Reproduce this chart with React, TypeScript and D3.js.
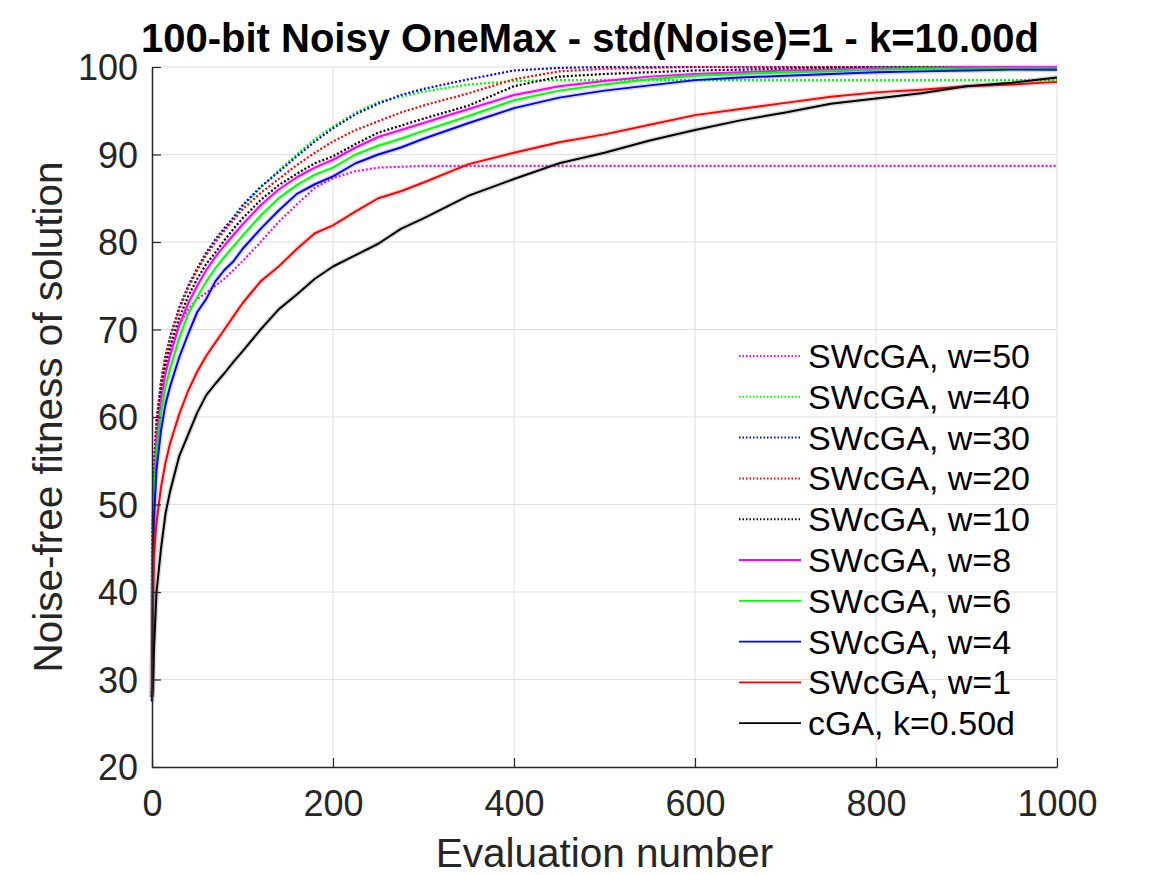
import * as d3 from 'd3';
import { useEffect, useRef } from 'react';

// evaluation numbers shared by every series
const evals = [0, 1, 2, 5, 10, 15, 20, 30, 40, 50, 60, 70, 80, 90, 100, 120, 140, 160, 180, 200, 225, 250, 275, 300, 350, 400, 450, 500, 550, 600, 650, 700, 750, 800, 850, 900, 950, 1000];

const sw50 = [27.5, 47, 53, 58.5, 63, 65.8, 67.8, 70.5, 72.3, 73.5, 74.2, 75, 75.8, 76.8, 77.8, 80, 82.3, 84.3, 86.2, 87.3, 88.1, 88.5, 88.6, 88.7, 88.7, 88.7, 88.7, 88.7, 88.7, 88.7, 88.7, 88.7, 88.7, 88.7, 88.7, 88.7, 88.7, 88.7];
const sw40 = [28, 49, 54, 59.5, 64, 66.8, 69, 72.3, 74.8, 76.8, 78.6, 80.1, 81.4, 82.7, 84, 86.2, 88.2, 90, 91.8, 93.2, 94.8, 96, 96.6, 97.2, 98, 98.4, 98.5, 98.5, 98.5, 98.5, 98.5, 98.5, 98.5, 98.5, 98.5, 98.5, 98.5, 98.5];
const sw30 = [27.5, 48, 54, 59.5, 64, 67, 69.2, 72.5, 75, 77, 78.8, 80.3, 81.6, 82.8, 84.2, 86.3, 88, 89.8, 91.5, 93, 94.6, 95.8, 96.8, 97.5, 98.6, 99.6, 99.9, 100, 100, 100, 100, 100, 100, 100, 100, 100, 100, 100];
const sw20 = [28, 48, 54, 59.5, 64, 67, 69, 72.3, 74.8, 76.8, 78.5, 80, 81.3, 82.5, 83.7, 85.6, 87.2, 88.8, 90.2, 91.5, 92.8, 93.8, 94.8, 95.6, 97, 98.6, 99.5, 99.8, 99.9, 100, 100, 100, 100, 100, 100, 100, 100, 100];
const sw10 = [28, 47, 53, 58.5, 63, 66, 68, 71.3, 73.8, 75.8, 77.5, 78.8, 80.2, 81.5, 82.7, 84.8, 86.5, 87.8, 89, 89.8, 91.2, 92.5, 93.3, 94.1, 95.6, 97.8, 98.9, 99.2, 99.4, 99.6, 99.7, 99.8, 99.9, 100, 100, 100, 100, 100];
const sw8 = [28, 46, 52, 57.5, 62, 65, 67, 70.5, 73, 75, 76.8, 78.3, 79.6, 80.8, 82, 84.2, 86, 87.4, 88.5, 89.4, 90.8, 92, 92.8, 93.6, 95.2, 96.8, 97.8, 98.4, 98.9, 99.2, 99.4, 99.6, 99.7, 99.9, 99.9, 100, 100, 100];
const sw6 = [28, 45, 51, 56, 60.5, 63.5, 65.5, 69, 71.8, 73.7, 75.5, 77, 78.3, 79.5, 80.7, 83, 85, 86.5, 87.7, 88.5, 90, 91, 91.8, 92.7, 94.4, 96.2, 97.3, 98, 98.6, 99, 99.2, 99.4, 99.5, 99.7, 99.8, 99.8, 99.9, 99.9];
const sw4 = [27.5, 40, 48, 54, 58.5, 61.5, 63.5, 66.8, 69.5, 72, 73.5, 75.5, 76.8, 77.8, 79.2, 81.5, 83.6, 85.5, 86.6, 87.5, 89, 90, 90.8, 91.8, 93.6, 95.3, 96.5, 97.3, 97.9, 98.5, 98.8, 99, 99.2, 99.4, 99.5, 99.6, 99.7, 99.7];
const sw1 = [28, 38, 44, 48, 52, 54.8, 57, 60.3, 63, 65.2, 67, 68.5, 70, 71.5, 73, 75.5, 77.2, 79.2, 81, 81.9, 83.5, 85, 85.8, 86.8, 88.9, 90.2, 91.4, 92.3, 93.4, 94.5, 95.2, 95.9, 96.6, 97.1, 97.4, 97.8, 98, 98.3];
const cga = [28, 29, 33, 40, 45, 49, 51.5, 55.5, 58, 60.5, 62.5, 63.8, 65, 66.3, 67.5, 70, 72.3, 74, 75.8, 77.2, 78.5, 79.8, 81.5, 82.7, 85.3, 87.2, 89, 90.2, 91.6, 92.8, 93.9, 94.8, 95.8, 96.4, 97, 97.8, 98.2, 98.8];

const seriesNames = ['SWcGA, w=50', 'SWcGA, w=40', 'SWcGA, w=30', 'SWcGA, w=20', 'SWcGA, w=10', 'SWcGA, w=8', 'SWcGA, w=6', 'SWcGA, w=4', 'SWcGA, w=1', 'cGA, k=0.50d'];
const seriesValues = [sw50, sw40, sw30, sw20, sw10, sw8, sw6, sw4, sw1, cga];
const seriesColors = ['#ff00ff', '#00ff00', '#0000ff', '#ff0000', '#000000', '#ff00ff', '#00ff00', '#0000ff', '#ff0000', '#000000'];
const seriesDotted = [true, true, true, true, true, false, false, false, false, false];

const xTicks = [0, 200, 400, 600, 800, 1000];
const yTicks = [20, 30, 40, 50, 60, 70, 80, 90, 100];

const W = 1167;
const H = 875;
const FONT = '"Liberation Sans", Arial, Helvetica, sans-serif';

export default function App() {
  const ref = useRef<SVGSVGElement>(null);

  useEffect(() => {
    document.body.style.margin = '0';
    const svg = d3.select(ref.current);
    svg.selectAll('*').remove();

    const margin = { top: 67, right: 110, bottom: 108, left: 152 };
    const iw = W - margin.left - margin.right;
    const ih = H - margin.top - margin.bottom;

    const x = d3.scaleLinear().domain([0, 1000]).range([0, iw]);
    const y = d3.scaleLinear().domain([20, 100]).range([ih, 0]);

    svg.append('rect').attr('width', W).attr('height', H).attr('fill', '#fff');

    const g = svg.append('g').attr('transform', `translate(${margin.left},${margin.top})`);

    // grid
    g.append('g')
      .selectAll('line')
      .data(xTicks.slice(1))
      .join('line')
      .attr('x1', (d) => x(d))
      .attr('x2', (d) => x(d))
      .attr('y1', 0)
      .attr('y2', ih)
      .attr('stroke', '#dedede')
      .attr('stroke-width', 1);
    g.append('g')
      .selectAll('line')
      .data(yTicks.slice(1))
      .join('line')
      .attr('x1', 0)
      .attr('x2', iw)
      .attr('y1', (d) => y(d))
      .attr('y2', (d) => y(d))
      .attr('stroke', '#dedede')
      .attr('stroke-width', 1);

    const line = d3
      .line<number>()
      .x((_, i) => x(evals[i]))
      .y((d) => y(d));

    const plot = g.append('g');
    seriesValues.forEach((vals, i) => {
      if (!seriesDotted[i]) {
        plot
          .append('path')
          .datum(vals)
          .attr('fill', 'none')
          .attr('stroke', seriesColors[i])
          .attr('stroke-opacity', 0.15)
          .attr('stroke-width', 5)
          .attr('stroke-linejoin', 'round')
          .attr('d', line);
      }
      plot
        .append('path')
        .datum(vals)
        .attr('fill', 'none')
        .attr('stroke', seriesColors[i])
        .attr('stroke-width', seriesDotted[i] ? 2.2 : 2)
        .attr('stroke-dasharray', seriesDotted[i] ? '2,2' : null)
        .attr('stroke-linejoin', 'round')
        .attr('d', line);
    });

    // axes
    const xAxis = g
      .append('g')
      .attr('transform', `translate(0,${ih})`)
      .call(d3.axisBottom(x).tickValues(xTicks).tickFormat(d3.format('d')).tickSizeInner(-9).tickSizeOuter(0).tickPadding(23));
    const yAxis = g
      .append('g')
      .call(d3.axisLeft(y).tickValues(yTicks).tickFormat(d3.format('d')).tickSizeInner(-9).tickSizeOuter(0).tickPadding(14));

    [xAxis, yAxis].forEach((ax) => {
      ax.select('.domain').attr('stroke', '#262626').attr('stroke-width', 1.5);
      ax.selectAll('.tick line').attr('stroke', '#262626').attr('stroke-width', 1.2);
      ax.selectAll('.tick text')
        .attr('fill', '#262626')
        .attr('font-family', FONT)
        .attr('font-size', 36);
    });
    xAxis.selectAll('.tick text').attr('dy', '0.71em');
    yAxis.selectAll('.tick text').attr('dy', '0.36em');

    // title and labels
    svg
      .append('text')
      .attr('x', 590)
      .attr('y', 52)
      .attr('text-anchor', 'middle')
      .attr('font-family', FONT)
      .attr('font-weight', 'bold')
      .attr('font-size', 40)
      .attr('fill', '#000')
      .text('100-bit Noisy OneMax - std(Noise)=1 - k=10.00d');

    svg
      .append('text')
      .attr('x', margin.left + iw / 2)
      .attr('y', 866.5)
      .attr('text-anchor', 'middle')
      .attr('font-family', FONT)
      .attr('font-size', 40.5)
      .attr('fill', '#262626')
      .text('Evaluation number');

    svg
      .append('text')
      .attr('transform', `translate(62,${margin.top + ih / 2}) rotate(-90)`)
      .attr('text-anchor', 'middle')
      .attr('font-family', FONT)
      .attr('font-size', 40.5)
      .attr('fill', '#262626')
      .text('Noise-free fitness of solution');

    // legend
    const legend = g.append('g').attr('transform', `translate(${739 - margin.left},${356 - margin.top})`);
    seriesNames.forEach((name, i) => {
      const row = legend.append('g').attr('transform', `translate(0,${i * 40.8})`);
      row
        .append('line')
        .attr('x1', 0)
        .attr('x2', 62)
        .attr('y1', 0)
        .attr('y2', 0)
        .attr('stroke', seriesColors[i])
        .attr('stroke-width', seriesDotted[i] ? 2 : 1.8)
        .attr('stroke-dasharray', seriesDotted[i] ? '1.5,2' : null);
      row
        .append('text')
        .attr('x', 69)
        .attr('y', 0)
        .attr('dy', '0.35em')
        .attr('font-family', FONT)
        .attr('font-size', 34)
        .attr('fill', '#000')
        .text(name);
    });
  }, []);

  return <svg ref={ref} width={W} height={H} style={{ display: 'block' }} />;
}
